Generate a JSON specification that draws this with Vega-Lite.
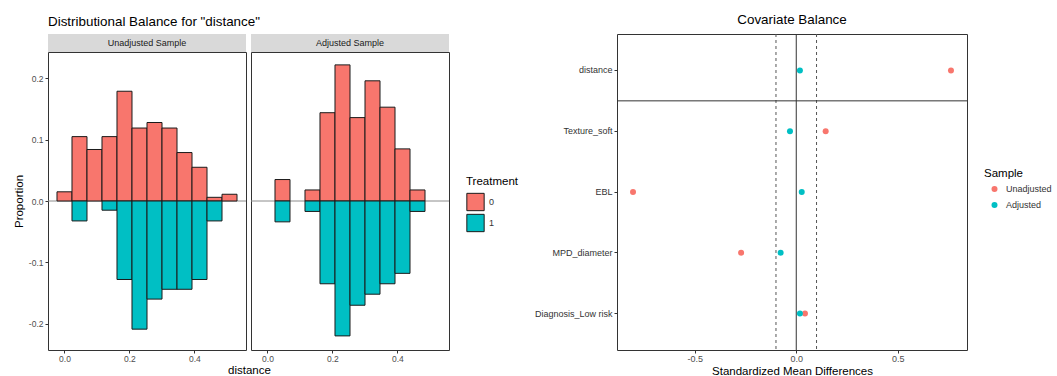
{
  "$schema": "https://vega.github.io/schema/vega-lite/v6.json",
  "background": "white",
  "padding": {"left": 12, "right": 0, "top": 12, "bottom": 0},
  "config": {
    "font": "Liberation Sans",
    "view": {"stroke": "#333333", "strokeWidth": 1},
    "axis": {"grid": false, "domain": false, "tickColor": "#333333", "tickSize": 3, "labelColor": "#4d4d4d", "labelFontSize": 8.5, "titleFontSize": 11.5, "titleFontWeight": "normal", "titleColor": "black", "labelPadding": 1, "titlePadding": 2},
    "legend": {"titleFontSize": 11.5, "titleFontWeight": "normal", "titleColor": "black", "labelFontSize": 9, "labelColor": "#333333"},
    "title": {"fontSize": 13.4, "fontWeight": "normal", "color": "black"}
  },
  "datasets": {
    "strips": [{"sample": "Unadjusted Sample"}, {"sample": "Adjusted Sample"}],
    "hist": [
      {"sample": "Unadjusted", "treatment": "0", "bin_start": -0.0231, "bin_end": 0.0231, "proportion": 0.015},
      {"sample": "Unadjusted", "treatment": "0", "bin_start": 0.0231, "bin_end": 0.0693, "proportion": 0.105},
      {"sample": "Unadjusted", "treatment": "0", "bin_start": 0.0693, "bin_end": 0.1155, "proportion": 0.084},
      {"sample": "Unadjusted", "treatment": "0", "bin_start": 0.1155, "bin_end": 0.1617, "proportion": 0.105},
      {"sample": "Unadjusted", "treatment": "0", "bin_start": 0.1617, "bin_end": 0.2079, "proportion": 0.179},
      {"sample": "Unadjusted", "treatment": "0", "bin_start": 0.2079, "bin_end": 0.2541, "proportion": 0.119},
      {"sample": "Unadjusted", "treatment": "0", "bin_start": 0.2541, "bin_end": 0.3003, "proportion": 0.128},
      {"sample": "Unadjusted", "treatment": "0", "bin_start": 0.3003, "bin_end": 0.3465, "proportion": 0.119},
      {"sample": "Unadjusted", "treatment": "0", "bin_start": 0.3465, "bin_end": 0.3927, "proportion": 0.079},
      {"sample": "Unadjusted", "treatment": "0", "bin_start": 0.3927, "bin_end": 0.4389, "proportion": 0.055},
      {"sample": "Unadjusted", "treatment": "0", "bin_start": 0.4389, "bin_end": 0.4851, "proportion": 0.006},
      {"sample": "Unadjusted", "treatment": "0", "bin_start": 0.4851, "bin_end": 0.5313, "proportion": 0.011},
      {"sample": "Unadjusted", "treatment": "1", "bin_start": 0.0231, "bin_end": 0.0693, "proportion": -0.0325},
      {"sample": "Unadjusted", "treatment": "1", "bin_start": 0.1155, "bin_end": 0.1617, "proportion": -0.015},
      {"sample": "Unadjusted", "treatment": "1", "bin_start": 0.1617, "bin_end": 0.2079, "proportion": -0.128},
      {"sample": "Unadjusted", "treatment": "1", "bin_start": 0.2079, "bin_end": 0.2541, "proportion": -0.209},
      {"sample": "Unadjusted", "treatment": "1", "bin_start": 0.2541, "bin_end": 0.3003, "proportion": -0.160},
      {"sample": "Unadjusted", "treatment": "1", "bin_start": 0.3003, "bin_end": 0.3465, "proportion": -0.144},
      {"sample": "Unadjusted", "treatment": "1", "bin_start": 0.3465, "bin_end": 0.3927, "proportion": -0.144},
      {"sample": "Unadjusted", "treatment": "1", "bin_start": 0.3927, "bin_end": 0.4389, "proportion": -0.128},
      {"sample": "Unadjusted", "treatment": "1", "bin_start": 0.4389, "bin_end": 0.4851, "proportion": -0.0325},
      {"sample": "Adjusted", "treatment": "0", "bin_start": 0.0231, "bin_end": 0.0693, "proportion": 0.035},
      {"sample": "Adjusted", "treatment": "0", "bin_start": 0.1155, "bin_end": 0.1617, "proportion": 0.018},
      {"sample": "Adjusted", "treatment": "0", "bin_start": 0.1617, "bin_end": 0.2079, "proportion": 0.144},
      {"sample": "Adjusted", "treatment": "0", "bin_start": 0.2079, "bin_end": 0.2541, "proportion": 0.222},
      {"sample": "Adjusted", "treatment": "0", "bin_start": 0.2541, "bin_end": 0.3003, "proportion": 0.136},
      {"sample": "Adjusted", "treatment": "0", "bin_start": 0.3003, "bin_end": 0.3465, "proportion": 0.196},
      {"sample": "Adjusted", "treatment": "0", "bin_start": 0.3465, "bin_end": 0.3927, "proportion": 0.153},
      {"sample": "Adjusted", "treatment": "0", "bin_start": 0.3927, "bin_end": 0.4389, "proportion": 0.085},
      {"sample": "Adjusted", "treatment": "0", "bin_start": 0.4389, "bin_end": 0.4851, "proportion": 0.018},
      {"sample": "Adjusted", "treatment": "1", "bin_start": 0.0231, "bin_end": 0.0693, "proportion": -0.034},
      {"sample": "Adjusted", "treatment": "1", "bin_start": 0.1155, "bin_end": 0.1617, "proportion": -0.017},
      {"sample": "Adjusted", "treatment": "1", "bin_start": 0.1617, "bin_end": 0.2079, "proportion": -0.135},
      {"sample": "Adjusted", "treatment": "1", "bin_start": 0.2079, "bin_end": 0.2541, "proportion": -0.220},
      {"sample": "Adjusted", "treatment": "1", "bin_start": 0.2541, "bin_end": 0.3003, "proportion": -0.170},
      {"sample": "Adjusted", "treatment": "1", "bin_start": 0.3003, "bin_end": 0.3465, "proportion": -0.152},
      {"sample": "Adjusted", "treatment": "1", "bin_start": 0.3465, "bin_end": 0.3927, "proportion": -0.135},
      {"sample": "Adjusted", "treatment": "1", "bin_start": 0.3927, "bin_end": 0.4389, "proportion": -0.118},
      {"sample": "Adjusted", "treatment": "1", "bin_start": 0.4389, "bin_end": 0.4851, "proportion": -0.017}
    ],
    "love": [
      {"covariate": "distance", "sample": "Unadjusted", "smd": 0.763},
      {"covariate": "distance", "sample": "Adjusted", "smd": 0.018},
      {"covariate": "Texture_soft", "sample": "Unadjusted", "smd": 0.145},
      {"covariate": "Texture_soft", "sample": "Adjusted", "smd": -0.031},
      {"covariate": "EBL", "sample": "Unadjusted", "smd": -0.805},
      {"covariate": "EBL", "sample": "Adjusted", "smd": 0.027},
      {"covariate": "MPD_diameter", "sample": "Unadjusted", "smd": -0.272},
      {"covariate": "MPD_diameter", "sample": "Adjusted", "smd": -0.077},
      {"covariate": "Diagnosis_Low risk", "sample": "Unadjusted", "smd": 0.043},
      {"covariate": "Diagnosis_Low risk", "sample": "Adjusted", "smd": 0.018}
    ],
    "thresholds": [{"smd": -0.1}, {"smd": 0.1}],
    "zeroline": [{"smd": 0}]
  },
  "resolve": {"scale": {"color": "independent"}, "legend": {"color": "independent"}},
  "spacing": 15,
  "hconcat": [
    {
      "title": {"text": "Distributional Balance for \"distance\"", "anchor": "start", "frame": "group", "offset": 6},
      "columns": 2,
      "bounds": "flush",
      "spacing": {"row": 0, "column": 5},
      "concat": [
        {
          "data": {"name": "strips"},
          "transform": [{"filter": "datum.sample === 'Unadjusted Sample'"}],
          "width": 198, "height": 18,
          "view": {"fill": "#d9d9d9", "stroke": null},
          "mark": {"type": "text", "fontSize": 9, "color": "#1a1a1a"},
          "encoding": {"text": {"field": "sample", "type": "nominal"}}
        },
        {
          "data": {"name": "strips"},
          "transform": [{"filter": "datum.sample === 'Adjusted Sample'"}],
          "width": 198, "height": 18,
          "view": {"fill": "#d9d9d9", "stroke": null},
          "mark": {"type": "text", "fontSize": 9, "color": "#1a1a1a"},
          "encoding": {"text": {"field": "sample", "type": "nominal"}}
        },
        {
          "width": 198, "height": 298,
          "layer": [
            {
              "data": {"values": [{"ref": 0}]},
              "mark": {"type": "rule", "color": "#8c8c8c", "strokeWidth": 1},
              "encoding": {"y": {"field": "ref", "type": "quantitative", "scale": {"domain": [-0.243, 0.243], "nice": false, "zero": false},
                                 "axis": {"values": [-0.2, -0.1, 0, 0.1, 0.2], "format": ".1f", "labelExpr": "replace(datum.label, '\u2212', '-')", "title": "Proportion", "labelPadding": 2, "titlePadding": 4}}}
            },
            {
              "data": {"name": "hist"},
              "transform": [{"filter": "datum.sample === 'Unadjusted'"}],
              "mark": {"type": "bar", "stroke": "#1a1a1a", "strokeWidth": 1},
              "encoding": {
                "x": {"field": "bin_start", "type": "quantitative", "scale": {"domain": [-0.0508, 0.559], "nice": false, "zero": false},
                      "axis": {"values": [0, 0.2, 0.4], "format": ".1f", "title": "distance", "titleX": 201}},
                "x2": {"field": "bin_end"},
                "y": {"field": "proportion", "type": "quantitative", "stack": null, "scale": {"domain": [-0.243, 0.243], "nice": false, "zero": false},
                      "axis": {"values": [-0.2, -0.1, 0, 0.1, 0.2], "format": ".1f", "labelExpr": "replace(datum.label, '\u2212', '-')", "title": "Proportion", "labelPadding": 2, "titlePadding": 4}},
                "y2": {"datum": 0},
                "color": {"field": "treatment", "type": "nominal",
                          "scale": {"domain": ["0", "1"], "range": ["#F8766D", "#00BFC4"]},
                          "legend": {"title": "Treatment", "symbolType": "square", "symbolSize": 300, "symbolStrokeColor": "#1a1a1a", "symbolStrokeWidth": 1, "symbolOpacity": 1, "rowPadding": -6, "orient": "none", "legendX": 418, "legendY": 142}}
              }
            }
          ]
        },
        {
          "width": 198, "height": 298,
          "layer": [
            {
              "data": {"values": [{"ref": 0}]},
              "mark": {"type": "rule", "color": "#8c8c8c", "strokeWidth": 1},
              "encoding": {"y": {"field": "ref", "type": "quantitative", "scale": {"domain": [-0.243, 0.243], "nice": false, "zero": false}, "axis": null}}
            },
            {
              "data": {"name": "hist"},
              "transform": [{"filter": "datum.sample === 'Adjusted'"}],
              "mark": {"type": "bar", "stroke": "#1a1a1a", "strokeWidth": 1},
              "encoding": {
                "x": {"field": "bin_start", "type": "quantitative", "scale": {"domain": [-0.0508, 0.559], "nice": false, "zero": false},
                      "axis": {"values": [0, 0.2, 0.4], "format": ".1f", "title": null}},
                "x2": {"field": "bin_end"},
                "y": {"field": "proportion", "type": "quantitative", "stack": null, "scale": {"domain": [-0.243, 0.243], "nice": false, "zero": false}, "axis": null},
                "y2": {"datum": 0},
                "color": {"field": "treatment", "type": "nominal",
                          "scale": {"domain": ["0", "1"], "range": ["#F8766D", "#00BFC4"]},
                          "legend": {"title": "Treatment", "symbolType": "square", "symbolSize": 300, "symbolStrokeColor": "#1a1a1a", "symbolStrokeWidth": 1, "symbolOpacity": 1, "rowPadding": -6, "orient": "none", "legendX": 418, "legendY": 142}}
              }
            }
          ]
        }
      ]
    },
    {
      "width": 350, "height": 316,
      "title": {"text": "Covariate Balance", "anchor": "middle", "offset": 7},
      "layer": [
        {
          "data": {"name": "thresholds"},
          "mark": {"type": "rule", "color": "#555555", "strokeDash": [3, 3], "strokeWidth": 1},
          "encoding": {"x": {"field": "smd", "type": "quantitative", "scale": {"domain": [-0.884, 0.842], "nice": false, "zero": false},
                             "axis": {"values": [-0.5, 0, 0.5], "format": ".1f", "labelExpr": "replace(datum.label, '\u2212', '-')", "title": "Standardized Mean Differences", "labelFontSize": 9}}}
        },
        {
          "data": {"name": "zeroline"},
          "mark": {"type": "rule", "color": "#333333", "strokeWidth": 1},
          "encoding": {"x": {"field": "smd", "type": "quantitative",
                             "axis": {"values": [-0.5, 0, 0.5], "format": ".1f", "labelExpr": "replace(datum.label, '\u2212', '-')", "title": "Standardized Mean Differences", "labelFontSize": 9}}}
        },
        {
          "data": {"values": [{"covariate": "Texture_soft"}]},
          "mark": {"type": "rule", "color": "#333333", "strokeWidth": 1},
          "encoding": {"y": {"field": "covariate", "type": "nominal", "bandPosition": 0, "axis": {"title": null, "labelFontSize": 9, "labelColor": "#333333", "labelPadding": 2}}}
        },
        {
          "data": {"name": "love"},
          "mark": {"type": "circle", "size": 36, "opacity": 1},
          "encoding": {
            "x": {"field": "smd", "type": "quantitative",
                  "axis": {"values": [-0.5, 0, 0.5], "format": ".1f", "labelExpr": "replace(datum.label, '\u2212', '-')", "title": "Standardized Mean Differences", "labelFontSize": 9}},
            "y": {"field": "covariate", "type": "nominal",
                  "scale": {"type": "band", "domain": ["distance", "Texture_soft", "EBL", "MPD_diameter", "Diagnosis_Low risk"], "paddingInner": 0, "paddingOuter": 0.1},
                  "axis": {"title": null, "labelFontSize": 9, "labelColor": "#333333", "labelPadding": 2}},
            "color": {"field": "sample", "type": "nominal",
                      "scale": {"domain": ["Unadjusted", "Adjusted"], "range": ["#F8766D", "#00BFC4"]},
                      "legend": {"title": "Sample", "symbolType": "circle", "symbolSize": 36, "symbolOffset": 6, "labelOffset": 7, "rowPadding": 6, "orient": "none", "legendX": 367, "legendY": 134}}
          }
        }
      ]
    }
  ]
}
